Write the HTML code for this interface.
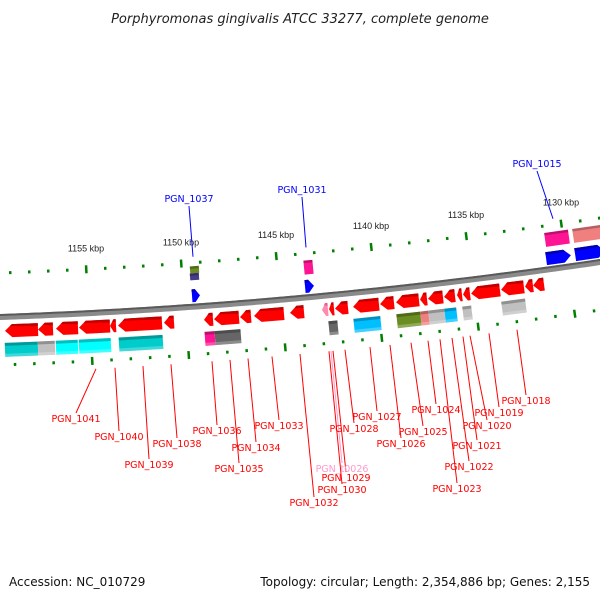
<!DOCTYPE html>
<html><head><meta charset="utf-8"><style>
body{margin:0;background:#fff}
svg{display:block;font-family:"Liberation Sans",sans-serif}
</style></head><body>
<svg id="map" width="600" height="600" viewBox="0 0 600 600">
<text x="300" y="23" text-anchor="middle" font-size="13" font-style="italic" fill="#222" style="font-family:'DejaVu Sans',sans-serif">Porphyromonas gingivalis ATCC 33277, complete genome</text>
<text x="9" y="586" font-size="12" fill="#111" style="font-family:'DejaVu Sans',sans-serif">Accession: NC_010729</text>
<text x="590" y="586" text-anchor="end" font-size="12" fill="#111" style="font-family:'DejaVu Sans',sans-serif">Topology: circular; Length: 2,354,886 bp; Genes: 2,155</text>
<g id="layer"></g>
</svg>
<script>
// kbp tick data
const majorTicks = [1155,1150,1145,1140,1135,1130];
const tickLabels = ["1155 kbp","1150 kbp","1145 kbp","1140 kbp","1135 kbp","1130 kbp"];
const tickMin = 1127, tickMax = 1160;
// reverse-strand genes (x-extent in px along the map)
const revStart = [5,38,56,79,110,118,164,204,214,240,254,290,322,329,335,353,380,396,420,428,444,457,463,471,501,525,533];
const revEnd   = [38,53,78,110,116,162,174,213,239,251,284,304,328,334,348,379,394,419,427,443,455,462,470,500,524,533,544];
const revColor = ["r","r","r","r","r","r","r","r","r","r","r","r","p","r","r","r","r","r","r","r","r","r","r","r","r","r","r"];
// reverse COG boxes
const cogRevStart = [5,38,56,79,119,205,215,329,354,397,421,429,445,463,502];
const cogRevEnd   = [38,55,78,111,163,215,241,338,381,421,429,445,457,472,526];
const cogRevColor = ["#00cccc","#c0c0c0","#00ffff","#00ffff","#00cccc","#ff1493","#666666","#666666","#00bfff","#6b8e23","#f08080","#c0c0c0","#00bfff","#c0c0c0","#c0c0c0"];
// forward genes
const fwdStart = [192,305,546,575];
const fwdEnd   = [200,314,571,605];
const cogFwdStart = [190,190,304,545,573];
const cogFwdEnd   = [199,199,313,569,605];
const cogFwdRow   = [1,0,0,0,0];
const cogFwdColor = ["#6b8e23","#483d8b","#ff1493","#ff1493","#f08080"];
// labels
const revLabels = ["PGN_1041","PGN_1040","PGN_1039","PGN_1038","PGN_1036","PGN_1035","PGN_1034","PGN_1033","PGN_1032","PGN_1030","PGN_1029","PGN_t0026","PGN_1028","PGN_1027","PGN_1026","PGN_1025","PGN_1024","PGN_1023","PGN_1022","PGN_1021","PGN_1020","PGN_1019","PGN_1018"];
const revLabelX = [76,119,149,177,217,239,256,279,314,342,346,342,354,377,401,423,436,457,469,477,487,499,526];
const revLabelY = [422,440,468,447,434,472,451,429,506,493,481,472,432,420,447,435,413,492,470,449,429,416,404];
const revLineX  = [96,115,143,171,212,230,248,272,300,329,333,331,345,370,390,411,428,440,452,463,470,489,517];
const fwdLabels = ["PGN_1037","PGN_1031","PGN_1015"];
const fwdLabelX = [189,302,537];
const fwdLabelY = [202,193,167];
const fwdLineX  = [193,306,553];

const NS="http://www.w3.org/2000/svg";
const L=document.getElementById('layer');
function yb(x){return 317-0.035*x-9.44e-5*x*x;}
function ang(x){return Math.atan(-0.035-2*9.44e-5*x)*180/Math.PI;}
function kx(k){return 86+(1155-k)*19;}
function kxb(k){return 92+(1155-k)*19.3;}
function el(t,a,p){const e=document.createElementNS(NS,t);for(const k in a)e.setAttribute(k,a[k]);(p||L).appendChild(e);return e;}
function grp(cx,off){const g=el('g',{transform:`translate(${cx},${yb(cx)+off}) rotate(${ang(cx)})`});return g;}

// backbone
let d="";for(let x=-5;x<=605;x+=5){d+=(x==-5?"M":"L")+x+","+yb(x).toFixed(2);}
const bb=el('path',{d:d,stroke:"#8a8a8a","stroke-width":6,fill:"none"});


const bb2=el('path',{d:d,stroke:"#5a5a5a","stroke-width":2,fill:"none",transform:"translate(0,-2)"});



// ticks
for(let k=tickMin;k<=tickMax;k++){
  const major=majorTicks.indexOf(k)>=0;
  const h=major?8:3;
  let x=kx(k);
  if(x>3&&x<605){const g=grp(x,-44);const t=el('rect',{x:-1,y:-h/2,width:2.5,height:h,fill:"#008000"},g);
  
  }
  x=kxb(k);
  if(x>3&&x<605){const g=grp(x,48);const t=el('rect',{x:-1,y:-h/2,width:2.5,height:h,fill:"#008000"},g);
  
  }
}
majorTicks.forEach((k,i)=>{const x=kx(k);const t=el('text',{x:x,y:yb(x)-62,"text-anchor":"middle","font-size":9,fill:"#222"});t.textContent=tickLabels[i];

});

function gene(x1,x2,off,dir,fill,dark,name){
  const cx=(x1+x2)/2,w=x2-x1,h=13,hd=Math.min(7,w*0.6);
  const g=grp(cx,off);
  let pts;
  if(dir<0)pts=[[-w/2,0],[-w/2+hd,-h/2],[w/2,-h/2],[w/2,h/2],[-w/2+hd,h/2]];
  else pts=[[w/2,0],[w/2-hd,-h/2],[-w/2,-h/2],[-w/2,h/2],[w/2-hd,h/2]];
  const p=el('polygon',{points:pts.map(q=>q.join(",")).join(" "),fill:fill},g);
  
  
  const top=dir<0?[[-w/2+hd*0.7,-h/2+2],[-w/2+hd,-h/2],[w/2,-h/2],[w/2,-h/2+3]]:[[w/2-hd*0.7,-h/2+2],[w/2-hd,-h/2],[-w/2,-h/2],[-w/2,-h/2+3]];
  el('polygon',{points:top.map(q=>q.join(",")).join(" "),fill:dark},g);
}
function box(x1,x2,off,fill,name){
  const cx=(x1+x2)/2,w=x2-x1,h=14;const g=grp(cx,off);
  const r=el('rect',{x:-w/2,y:-h/2,width:w,height:h,fill:fill},g);
  
  
  el('rect',{x:-w/2,y:-h/2,width:w,height:3,fill:"rgba(0,0,0,0.25)"},g);
  el('rect',{x:-w/2,y:h/2-3,width:w,height:3,fill:"rgba(255,255,255,0.25)"},g);
}
revStart.forEach((s,i)=>{const pink=revColor[i]=="p";gene(s,revEnd[i],14,-1,pink?"#ff8ab0":"#ff0000",pink?"#e06090":"#c00000","gene-reverse");});
cogRevStart.forEach((s,i)=>box(s,cogRevEnd[i],33,cogRevColor[i],"cog-box-reverse"));
fwdStart.forEach((s,i)=>gene(s,fwdEnd[i],-11,1,"#0000ff","#0000b0","gene-forward"));
cogFwdStart.forEach((s,i)=>{const off=cogFwdRow[i]?-37:-30;const cx=(s+cogFwdEnd[i])/2,w=cogFwdEnd[i]-s;
  const g=grp(cx,off);const h=cogFwdRow[i]||cogFwdStart.filter(v=>v==s).length>1?7:14;
  const r=el('rect',{x:-w/2,y:-h/2,width:w,height:h,fill:cogFwdColor[i]},g);
  
  
  el('rect',{x:-w/2,y:-h/2,width:w,height:2.5,fill:"rgba(0,0,0,0.25)"},g);});

revLabels.forEach((t,i)=>{
  const pink=t=="PGN_t0026";const c=pink?"#ff99cc":"#ff0000";
  const x0=revLineX[i];const ln=el('line',{x1:x0,y1:yb(x0)+56,x2:revLabelX[i],y2:revLabelY[i]-9,stroke:c,"stroke-width":1});
  
  
  const tx=el('text',{x:revLabelX[i],y:revLabelY[i],"text-anchor":"middle","font-size":9.5,fill:c,style:"font-family:'DejaVu Sans',sans-serif"});tx.textContent=t;
  
  
});
fwdLabels.forEach((t,i)=>{
  const x0=fwdLineX[i];const ln=el('line',{x1:fwdLabelX[i],y1:fwdLabelY[i]+4,x2:x0,y2:yb(x0)-50,stroke:"#0000ff","stroke-width":1});
  
  
  const tx=el('text',{x:fwdLabelX[i],y:fwdLabelY[i],"text-anchor":"middle","font-size":9.5,fill:"#0000ff",style:"font-family:'DejaVu Sans',sans-serif"});tx.textContent=t;
  
  
});
</script>
</body></html>
